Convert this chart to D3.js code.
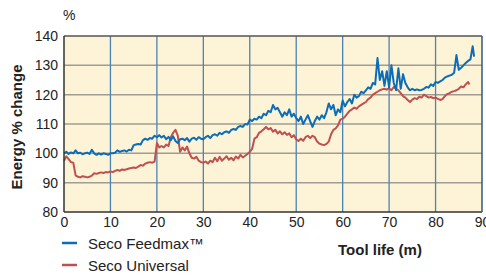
<!DOCTYPE html>
<html><head><meta charset="utf-8">
<script src="https://cdn.jsdelivr.net/npm/d3@7"></script>
<style>body{margin:0;background:#fff}svg{display:block;font-family:"Liberation Sans",Arial,sans-serif}</style>
</head><body><svg id="c" width="486" height="277"></svg>
<script>
const xTicks = [0,10,20,30,40,50,60,70,80,90];
const yTicks = [80,90,100,110,120,130,140];
const seriesNames = ["Seco Feedmax\u2122","Seco Universal"];
const feedmax = [[0,100],[0.5,100.5],[1,99.8],[1.5,100.3],[2,100],[2.5,101],[3,100],[3.5,100.2],[4,99.7],[4.5,100],[5,100.2],[5.5,99.8],[6,101.2],[6.5,100],[7,99.5],[7.5,100],[8,99.6],[8.5,100],[9,99.8],[9.5,99.5],[10,100],[10.5,100],[11,100.2],[11.5,101],[12,100.5],[12.5,100.8],[13,101],[13.5,100.6],[14,101.2],[14.5,101],[15,102.8],[15.5,103],[16,103.2],[16.5,103],[17,104.5],[17.5,105],[18,104.6],[18.5,105.2],[19,105],[19.5,106],[20,105.5],[20.5,106.2],[21,105.4],[21.5,106],[22,104.8],[22.5,105.6],[23,104.5],[23.5,105.8],[24,104.2],[24.5,103.5],[25,104.8],[25.5,105],[26,104.5],[26.5,105.2],[27,104],[27.5,105],[28,105.3],[28.5,104.6],[29,105.5],[29.5,105],[30,104.8],[30.5,105.5],[31,106],[31.5,105.2],[32,106.2],[32.5,106.5],[33,106],[33.5,107],[34,106.5],[34.5,107.2],[35,107.5],[35.5,107],[36,108],[36.5,108.3],[37,108],[37.5,109],[38,109.3],[38.5,109],[39,110],[39.5,109.8],[40,111.5],[40.5,111],[41,111.8],[41.5,111.5],[42,112.5],[42.5,112],[43,113.5],[43.5,113],[44,114.5],[44.5,114],[45,116.5],[45.5,115],[46,115.5],[46.5,114],[47,112.5],[47.5,114],[48,113],[48.5,115],[49,112.5],[49.5,113.5],[50,112],[50.5,111],[51,112.5],[51.5,110],[52,111.5],[52.5,113],[53,111],[53.5,109],[54,111],[54.5,112.5],[55,111.5],[55.5,113],[56,112],[56.5,114],[57,117],[57.5,115],[58,116.5],[58.5,113],[59,115],[59.5,114],[60,118],[60.5,116],[61,117.5],[61.5,118.5],[62,117],[62.5,120],[63,119],[63.5,119.5],[64,121],[64.5,120.5],[65,121.5],[65.5,122.5],[66,122],[66.5,124],[67,123.5],[67.5,132.5],[68,125],[68.5,128],[69,123],[69.5,128],[70,122.5],[70.5,130],[71,124],[71.5,121.5],[72,129],[72.5,122],[73,127],[73.5,124],[74,122.5],[74.5,121.5],[75,122],[75.5,121.5],[76,121.8],[76.5,121.5],[77,121.6],[77.5,122],[78,122.6],[78.5,122.4],[79,123.5],[79.5,123],[80,124.3],[80.5,124],[81,124.5],[81.5,125],[82,125.8],[82.5,126.2],[83,126.5],[83.5,126.8],[84,127.5],[84.5,133.5],[85,128.5],[85.5,129.2],[86,130],[86.5,130.8],[87,131.5],[87.5,132],[88,136.5],[88.3,133]];
const universal = [[0,97.5],[0.5,99],[1,98],[1.5,97],[2,96.8],[2.5,92.5],[3,92],[3.5,91.8],[4,92.2],[4.5,92],[5,91.8],[5.5,92],[6,92.4],[6.5,93.2],[7,93],[7.5,93.3],[8,93.5],[8.5,93.3],[9,93.6],[9.5,93.5],[10,93.8],[10.5,93.6],[11,94],[11.5,94.3],[12,94],[12.5,94.5],[13,94.3],[13.5,94.6],[14,94.8],[14.5,95],[15,95.2],[15.5,95],[16,95.5],[16.5,96],[17,95.8],[17.5,96.5],[18,96.8],[18.5,97],[19,96.8],[19.5,97.2],[20,103.5],[20.5,102],[21,102.5],[21.5,102],[22,103],[22.5,102.5],[23,105.5],[23.5,107],[24,108],[24.5,106],[25,100.5],[25.5,102],[26,101],[26.5,102.3],[27,100],[27.5,98.5],[28,98.2],[28.5,98.8],[29,97.5],[29.5,97],[30,96.8],[30.5,97.2],[31,96.5],[31.5,97.5],[32,97],[32.5,98.5],[33,97.3],[33.5,98.8],[34,97.5],[34.5,98.2],[35,99],[35.5,97.8],[36,98.5],[36.5,97.6],[37,98.9],[37.5,98.2],[38,99.5],[38.5,98.6],[39,99.2],[39.5,99.8],[40,100.5],[40.5,101.5],[41,105],[41.5,105.5],[42,107],[42.5,107.5],[43,108.2],[43.5,109],[44,108.2],[44.5,108.6],[45,107.4],[45.5,108],[46,106.8],[46.5,107.5],[47,106.5],[47.5,107.2],[48,106.3],[48.5,106.8],[49,105.5],[49.5,106.2],[50,104.8],[50.5,104.2],[51,105],[51.5,104.3],[52,105.5],[52.5,106],[53,105.2],[53.5,106],[54,105.5],[54.5,104],[55,103.3],[55.5,103],[56,102.8],[56.5,103.2],[57,104],[57.5,106.5],[58,108],[58.5,108.5],[59,109.5],[59.5,111.5],[60,111.8],[60.5,112.5],[61,113.5],[61.5,114.5],[62,115],[62.5,115.6],[63,115.2],[63.5,116],[64,116.5],[64.5,117],[65,117.5],[65.5,118.5],[66,119],[66.5,120],[67,120.5],[67.5,121],[68,121.5],[68.5,121.8],[69,122],[69.5,121.7],[70,122.2],[70.5,121.5],[71,122.6],[71.5,122],[72,121.5],[72.5,120.5],[73,119.5],[73.5,119],[74,118.2],[74.5,117.5],[75,118.3],[75.5,118.8],[76,118.5],[76.5,119.3],[77,119],[77.5,120],[78,119.5],[78.5,119],[79,119.2],[79.5,118.8],[80,119],[80.5,118.6],[81,118.2],[81.5,118.5],[82,119.5],[82.5,120.2],[83,120.5],[83.5,121],[84,121.2],[84.5,121.5],[85,122],[85.5,122.8],[86,122.5],[86.5,123.5],[87,124.3],[87.3,123.5]];

const colors = ["#0b6db7","#c0504d"];
const svg = d3.select("#c");
const L=64, R=482, T=36, B=212;
const x = d3.scaleLinear().domain([0,90]).range([L,R]);
const y = d3.scaleLinear().domain([80,140]).range([B,T]);

svg.append("rect").attr("x",L).attr("y",T).attr("width",R-L).attr("height",B-T).attr("fill","#fdf3d6");

// horizontal grid
svg.append("g").selectAll("line").data(yTicks.filter(d=>d>80&&d<140)).join("line")
  .attr("x1",L).attr("x2",R).attr("y1",d=>y(d)).attr("y2",d=>y(d))
  .attr("stroke","#a09c94").attr("stroke-width",1.5);
// vertical grid
svg.append("g").selectAll("line").data(xTicks.filter(d=>d>0&&d<90)).join("line")
  .attr("x1",d=>x(d)).attr("x2",d=>x(d)).attr("y1",T).attr("y2",B)
  .attr("stroke","#4a84b4").attr("stroke-width",1.3);

const line = d3.line().x(d=>x(d[0])).y(d=>y(d[1]));
svg.append("path").datum(universal).attr("d",line).attr("fill","none").attr("stroke",colors[1]).attr("stroke-width",2).attr("stroke-linejoin","round");
svg.append("path").datum(feedmax).attr("d",line).attr("fill","none").attr("stroke",colors[0]).attr("stroke-width",2).attr("stroke-linejoin","round");

// frame
svg.append("line").attr("x1",L).attr("x2",R).attr("y1",T).attr("y2",T).attr("stroke","#555").attr("stroke-width",1.5);
svg.append("line").attr("x1",L).attr("x2",R).attr("y1",B).attr("y2",B).attr("stroke","#333").attr("stroke-width",1.5);
svg.append("line").attr("x1",L).attr("x2",L).attr("y1",T).attr("y2",B).attr("stroke","#333").attr("stroke-width",1.5);
svg.append("line").attr("x1",R).attr("x2",R).attr("y1",T).attr("y2",B).attr("stroke","#2c5a80").attr("stroke-width",1.5);

// axes labels
const xa = svg.append("g").attr("transform",`translate(0,${B})`).call(d3.axisBottom(x).tickValues(xTicks).tickSize(0).tickPadding(5).tickFormat(d3.format("d")));
xa.select(".domain").remove();
xa.selectAll("text").attr("font-size",14).attr("fill","#222").attr("font-family","Liberation Sans, Arial, sans-serif");
const ya = svg.append("g").attr("transform",`translate(${L},0)`).call(d3.axisLeft(y).tickValues(yTicks).tickSize(0).tickPadding(6).tickFormat(d3.format("d")));
ya.select(".domain").remove();
ya.selectAll("text").attr("font-size",14).attr("fill","#222").attr("font-family","Liberation Sans, Arial, sans-serif");

svg.append("text").attr("x",63).attr("y",20).attr("font-size",14).attr("fill","#222").text("%");
svg.append("text").attr("transform","translate(22,127) rotate(-90)").attr("text-anchor","middle")
  .attr("font-size",15).attr("font-weight","bold").attr("fill","#222").text("Energy % change");
svg.append("text").attr("x",380).attr("y",255).attr("text-anchor","middle")
  .attr("font-size",15).attr("font-weight","bold").attr("fill","#222").text("Tool life (m)");

// legend
const lg = svg.append("g");
[0,1].forEach(i=>{
  const yy = 243 + i*22;
  lg.append("line").attr("x1",62).attr("x2",77).attr("y1",yy).attr("y2",yy).attr("stroke",colors[i]).attr("stroke-width",2.5);
  lg.append("text").attr("x",88).attr("y",yy+6).attr("font-size",15).attr("fill","#222").text(seriesNames[i]);
});
</script></body></html>
